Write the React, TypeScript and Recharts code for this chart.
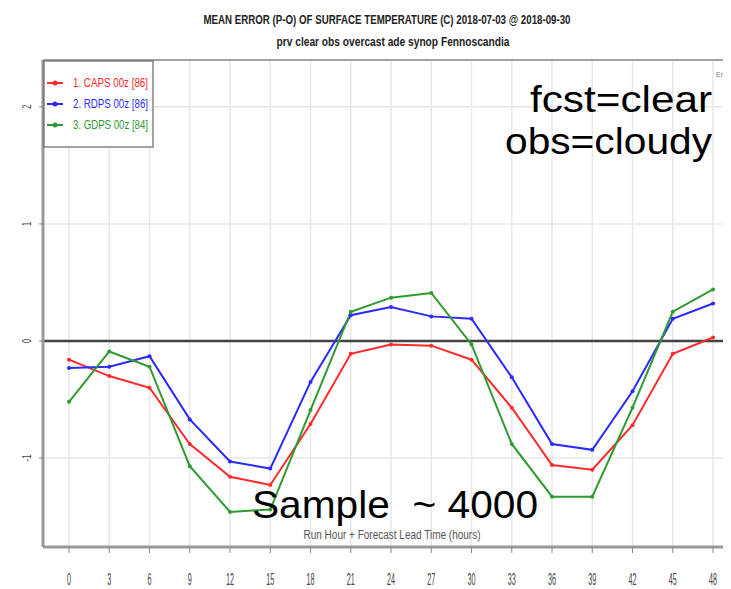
import { CartesianGrid, Line, LineChart, ReferenceLine, XAxis, YAxis } from "recharts";

const leadHours = [0, 3, 6, 9, 12, 15, 18, 21, 24, 27, 30, 33, 36, 39, 42, 45, 48];
const capsValues = [-0.16, -0.3, -0.4, -0.88, -1.16, -1.23, -0.71, -0.11, -0.03, -0.04, -0.16, -0.57, -1.06, -1.1, -0.72, -0.11, 0.03];
const rdpsValues = [-0.23, -0.22, -0.13, -0.67, -1.03, -1.09, -0.35, 0.22, 0.29, 0.21, 0.19, -0.31, -0.88, -0.93, -0.43, 0.19, 0.32];
const gdpsValues = [-0.52, -0.09, -0.22, -1.07, -1.46, -1.44, -0.59, 0.25, 0.37, 0.41, -0.03, -0.88, -1.33, -1.33, -0.57, 0.25, 0.44];
const yTicks = [-1, 0, 1, 2];

const series = [
  { key: "caps", label: "1. CAPS 00z [86]", color: "#ff2a2a" },
  { key: "rdps", label: "2. RDPS 00z [86]", color: "#2a2aff" },
  { key: "gdps", label: "3. GDPS 00z [84]", color: "#2f9a2f" }
] as const;

const data = leadHours.map((h, i) => ({
  hour: h,
  caps: capsValues[i],
  rdps: rdpsValues[i],
  gdps: gdpsValues[i]
}));

const condensed = "'Liberation Sans', Arial, sans-serif";

function XTick({ x, y, payload }: any) {
  return (
    <g>
      <line x1={x} x2={x} y1={y - 8} y2={y - 2} stroke="#888" strokeWidth={1} />
      <text
        transform={`translate(${x}, ${y + 30}) scale(0.45, 1)`}
        textAnchor="middle"
        fontSize={16}
        fill="#444"
        fontFamily={condensed}
      >
        {payload.value}
      </text>
    </g>
  );
}

function YTick({ x, y, payload }: any) {
  return (
    <g>
      <line x1={x + 4} x2={x + 9} y1={y} y2={y} stroke="#888" strokeWidth={1} />
      <text
        transform={`translate(${x - 4}, ${y}) rotate(-90) scale(0.6, 1)`}
        textAnchor="middle"
        fontSize={12}
        fill="#444"
        fontFamily={condensed}
      >
        {payload.value}
      </text>
    </g>
  );
}

export default function App() {
  return (
    <div style={{ position: "relative", width: 731, height: 589, margin: "-8px 0 0 -8px", background: "#fff", overflow: "hidden" }}>
      <LineChart width={731} height={589} data={data} margin={{ top: 60, right: 0, left: 0, bottom: 0 }}>
        <CartesianGrid stroke="#e8e8e8" strokeWidth={1.5} />
        <XAxis
          dataKey="hour"
          type="number"
          domain={[-1.94, 49.34]}
          ticks={leadHours}
          height={42}
          axisLine={{ stroke: "#999", strokeWidth: 3 }}
          tickLine={false}
          tick={<XTick />}
          interval={0}
          allowDataOverflow
        />
        <YAxis
          type="number"
          domain={[-1.76, 2.4]}
          ticks={yTicks}
          width={43}
          axisLine={{ stroke: "#999", strokeWidth: 3 }}
          tickLine={false}
          tick={<YTick />}
          interval={0}
          allowDataOverflow
        />
        <ReferenceLine y={2.4} stroke="#888" strokeWidth={1.5} />
        <ReferenceLine y={0} stroke="#444" strokeWidth={2.5} />
        {series.map((s) => (
          <Line
            key={s.key}
            type="linear"
            dataKey={s.key}
            stroke={s.color}
            strokeWidth={2}
            dot={{ r: 2, fill: s.color, stroke: s.color, strokeWidth: 0 }}
            isAnimationActive={false}
          />
        ))}
      </LineChart>
      <svg width={731} height={589} style={{ position: "absolute", left: 0, top: 0, pointerEvents: "none" }}>
        <text x={387} y={24} textAnchor="middle" fontSize={12} fontWeight="bold" fill="#222" fontFamily={condensed} textLength={367} lengthAdjust="spacingAndGlyphs">
          MEAN ERROR (P-O) OF SURFACE TEMPERATURE (C) 2018-07-03 @ 2018-09-30
        </text>
        <text x={393} y={46} textAnchor="middle" fontSize={12} fontWeight="bold" fill="#222" fontFamily={condensed} textLength={233} lengthAdjust="spacingAndGlyphs">
          prv clear obs overcast ade synop Fennoscandia
        </text>
        <rect x={44} y={61} width={109} height={86} fill="#fff" stroke="#666" strokeWidth={1.2} />
        {series.map((s, i) => (
          <g key={s.key}>
            <line x1={47} x2={63} y1={83 + i * 21} y2={83 + i * 21} stroke={s.color} strokeWidth={2} />
            <circle cx={55} cy={83 + i * 21} r={2.5} fill={s.color} />
            <text x={73} y={87 + i * 21} fontSize={12} fill={s.color} fontFamily={condensed} textLength={75} lengthAdjust="spacingAndGlyphs">
              {s.label}
            </text>
          </g>
        ))}
        <text x={716} y={77} fontSize={7} fill="#777" fontFamily={condensed}>Err</text>
        <text x={392} y={539} textAnchor="middle" fontSize={12} fill="#555" fontFamily={condensed} textLength={177} lengthAdjust="spacingAndGlyphs">
          Run Hour + Forecast Lead Time (hours)
        </text>
        <text x={712} y={112} textAnchor="end" fontSize={37} fill="#000" fontFamily="'Liberation Sans', Arial, sans-serif" textLength={182} lengthAdjust="spacingAndGlyphs">
          fcst=clear
        </text>
        <text x={712} y={154} textAnchor="end" fontSize={37} fill="#000" fontFamily="'Liberation Sans', Arial, sans-serif" textLength={207} lengthAdjust="spacingAndGlyphs">
          obs=cloudy
        </text>
        <text x={252} y={518} fontSize={39} fill="#000" fontFamily="'Liberation Sans', Arial, sans-serif" textLength={286} lengthAdjust="spacingAndGlyphs" xmlSpace="preserve">
          Sample  ~ 4000
        </text>
      </svg>
    </div>
  );
}
